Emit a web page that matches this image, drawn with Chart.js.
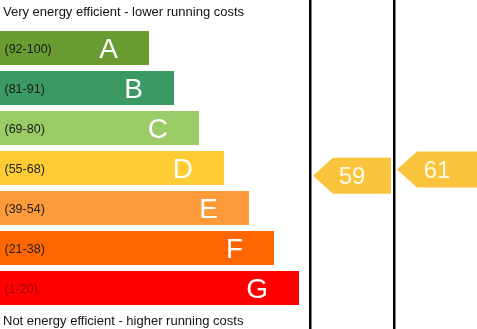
<!DOCTYPE html>
<html>
<head>
<meta charset="utf-8">
<script src="https://cdn.jsdelivr.net/npm/chart.js@4"></script>
<style>
html,body{margin:0;padding:0;background:#fff;}
canvas{display:block;}
</style>
</head>
<body>
<canvas id="c" width="477" height="329" style="width:477px;height:329px"></canvas>
<script>
// ---- data ----
const bands = ['A', 'B', 'C', 'D', 'E', 'F', 'G'];
const rangeLabels = ['(92-100)', '(81-91)', '(69-80)', '(55-68)', '(39-54)', '(21-38)', '(1-20)'];
const bandMin = [92, 81, 69, 55, 39, 21, 1];
const bandMax = [100, 91, 80, 68, 54, 38, 20];
const barLength = [6, 7, 8, 9, 10, 11, 12];
const ratingNames = ['Current', 'Potential'];
const ratings = [59, 61];
const topCaption = 'Very energy efficient - lower running costs';
const bottomCaption = 'Not energy efficient - higher running costs';

// ---- styles ----
const bandColors = ['#6b9c33', '#3a9a62', '#9acb66', '#ffcc33', '#fd9a3a', '#ff6600', '#ff0000'];
const rangeColors = ['#1a1a1a', '#1a1a1a', '#1a1a1a', '#222222', '#222222', '#222222', '#a00000'];
const arrowColor = '#f9c43b';
const FONT = '"Liberation Sans", Arial, sans-serif';

const epcPlugin = {
  id: 'epc',
  beforeDraw(chart) {
    const ctx = chart.ctx;
    ctx.save();
    ctx.fillStyle = '#ffffff';
    ctx.fillRect(0, 0, chart.width, chart.height);
    ctx.restore();
  },
  afterDatasetsDraw(chart) {
    const ctx = chart.ctx;
    const meta = chart.getDatasetMeta(0);
    const y = chart.scales.y;
    ctx.save();
    // captions
    ctx.fillStyle = '#111111';
    ctx.font = '13px ' + FONT;
    ctx.textAlign = 'left';
    ctx.textBaseline = 'alphabetic';
    ctx.fillText(topCaption, 3, 15.5);
    ctx.fillText(bottomCaption, 3, 325);

    // column lines
    ctx.fillStyle = '#000000';
    ctx.fillRect(309, 0, 2.5, chart.height);
    ctx.fillRect(393, 0, 2.5, chart.height);

    // band labels
    meta.data.forEach((bar, i) => {
      ctx.font = '12.5px ' + FONT;
      ctx.fillStyle = rangeColors[i];
      ctx.textAlign = 'left';
      ctx.fillText(rangeLabels[i], 4.5, bar.y + 5);
      ctx.font = '28px ' + FONT;
      ctx.fillStyle = '#ffffff';
      ctx.textAlign = 'right';
      ctx.fillText(bands[i], bar.x - 31, bar.y + 9.5);
    });

    // rating arrows
    const cols = [{ l: 313, r: 391 }, { l: 397, r: 477 }];
    const catH = (y.getPixelForValue(1) - y.getPixelForValue(0));
    ratings.forEach((v, k) => {
      let idx = bandMin.findIndex((m, i) => v >= m && v <= bandMax[i]);
      const frac = (bandMax[idx] - v) / (bandMax[idx] - bandMin[idx]);
      const cy = y.getPixelForValue(idx) - catH / 2 + frac * catH;
      const h = 36, tip = 20;
      const c = cols[k];
      ctx.fillStyle = arrowColor;
      ctx.beginPath();
      ctx.moveTo(c.l, cy);
      ctx.lineTo(c.l + tip, cy - h / 2);
      ctx.lineTo(c.r, cy - h / 2);
      ctx.lineTo(c.r, cy + h / 2);
      ctx.lineTo(c.l + tip, cy + h / 2);
      ctx.closePath();
      ctx.fill();
      ctx.fillStyle = '#fffbe6';
      ctx.font = '24px ' + FONT;
      ctx.textAlign = 'center';
      ctx.fillText(String(v), (c.l + c.r) / 2, cy + 8);
    });
    ctx.restore();
  }
};

new Chart(document.getElementById('c'), {
  type: 'bar',
  data: {
    labels: bands,
    datasets: [{
      data: barLength,
      backgroundColor: bandColors,
      borderWidth: 0,
      barPercentage: 0.85,
      categoryPercentage: 1.0
    }]
  },
  options: {
    indexAxis: 'y',
    responsive: false,
    animation: false,
    devicePixelRatio: 1,
    layout: { padding: { top: 28, bottom: 21, left: 0, right: 0 } },
    scales: {
      x: { display: false, min: 0.04, max: 0.04 + 477 / 25 },
      y: { display: false }
    },
    plugins: { legend: { display: false }, tooltip: { enabled: false } }
  },
  plugins: [epcPlugin]
});
</script>
</body>
</html>
